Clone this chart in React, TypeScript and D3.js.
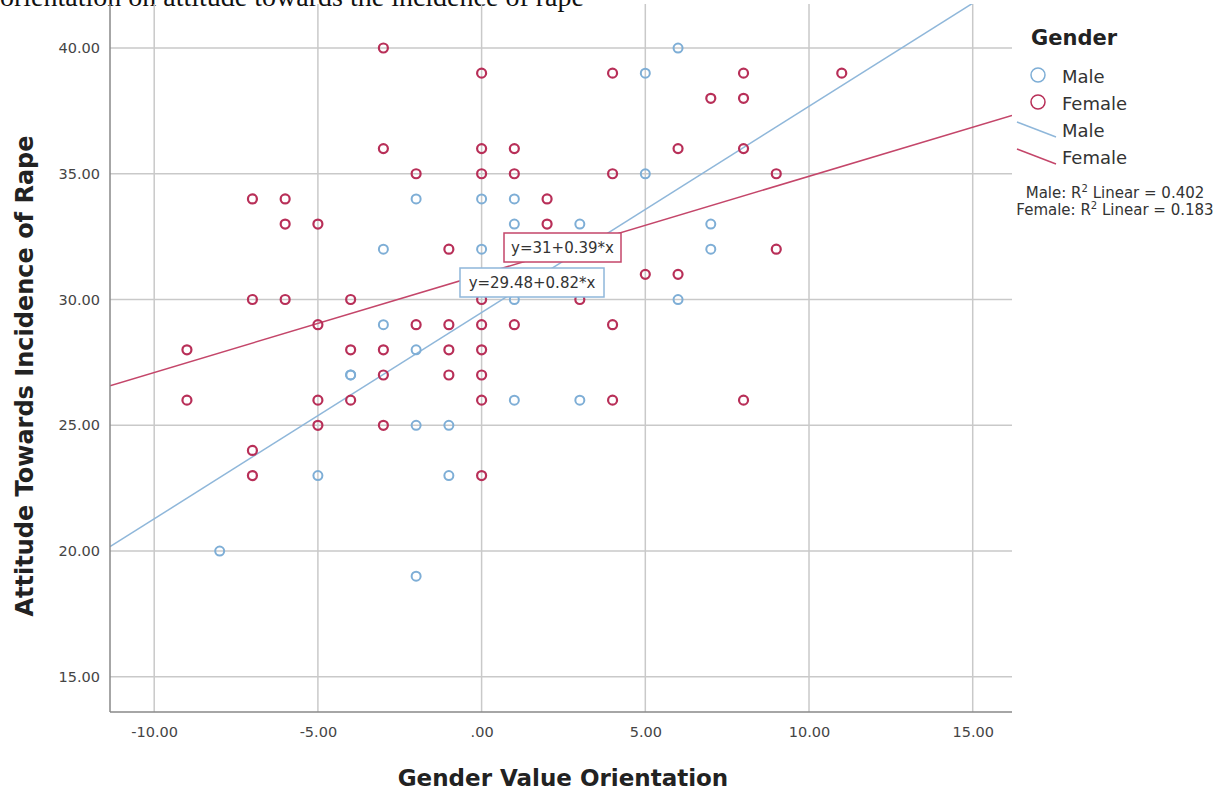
import * as d3 from 'd3'
import { useEffect, useRef } from 'react'

// Gender value orientation (x) vs attitude towards incidence of rape (y)
const maleX = [6, 5, 5, -2, 0, 1, 1, 3, 7, -3, 0, 7, 1, 6, -3, -2, -4, -4, -2, -1, -5, -1, 1, 3, -8, -2]
const maleY = [40, 39, 35, 34, 34, 34, 33, 33, 33, 32, 32, 32, 30, 30, 29, 28, 27, 27, 25, 25, 23, 23, 26, 26, 20, 19]

const femaleX = [
  -3, 0, 4, 8, 11, 7, 8, -3, 0, 1, 6, 8, -2, 0, 1, 4, 9, -7, -6, 2, -6, -5, 2, -1, 9, 5, 6,
  -7, -6, -4, 0, 3, -5, -2, -1, 0, 1, 4, -9, -4, -3, -1, 0, -3, -1, 0, -9, -5, -4, 0, 4, 8,
  -5, -3, -7, -7, 0,
]
const femaleY = [
  40, 39, 39, 39, 39, 38, 38, 36, 36, 36, 36, 36, 35, 35, 35, 35, 35, 34, 34, 34, 33, 33, 33, 32, 32, 31, 31,
  30, 30, 30, 30, 30, 29, 29, 29, 29, 29, 29, 28, 28, 28, 28, 28, 27, 27, 27, 26, 26, 26, 26, 26, 26,
  25, 25, 24, 23, 23,
]

const xTicks = [-10, -5, 0, 5, 10, 15]
const yTicks = [15, 20, 25, 30, 35, 40]

const fits = [
  { name: 'Male', a: 29.48, b: 0.82, label: 'y=29.48+0.82*x', r2: 'Male: R', r2v: ' Linear = 0.402' },
  { name: 'Female', a: 31, b: 0.39, label: 'y=31+0.39*x', r2: 'Female: R', r2v: ' Linear = 0.183' },
]

const MALE = '#7eaed6'
const FEMALE = '#b82f58'
const MALE_LINE = '#8fb7da'
const FEMALE_LINE = '#c4466a'
const FONT = '"DejaVu Sans", Arial, sans-serif'

const fmt = (d: number) => (d === 0 ? '.00' : d.toFixed(2))

const App = () => {
  const ref = useRef<HTMLDivElement>(null)

  useEffect(() => {
    if (!ref.current) return
    const W = 1219
    const H = 790
    d3.select(ref.current).select('svg').remove()

    const svg = d3
      .select(ref.current)
      .append('svg')
      .attr('width', W)
      .attr('height', H)
      .style('position', 'absolute')
      .style('left', '0px')
      .style('top', '0px')
      .style('font-family', FONT)

    svg.append('rect').attr('width', W).attr('height', H).attr('fill', '#fff')

    // cut-off caption line from the page above the figure
    svg
      .append('text')
      .attr('x', 0)
      .attr('y', 6)
      .style('font-family', '"Liberation Serif", "Times New Roman", serif')
      .style('font-size', '28px')
      .attr('fill', '#111')
      .text('orientation on attitude towards the incidence of rape')

    const left = 110
    const right = 1012
    const top = 4
    const bottom = 712

    const x = d3.scaleLinear().domain([-11.35, 16.2]).range([left, right])
    const y = d3.scaleLinear().domain([13.6, 41.75]).range([bottom, top])

    const plot = svg.append('g')

    // grid
    plot
      .selectAll('.vgrid')
      .data(xTicks)
      .enter()
      .append('line')
      .attr('x1', (d) => x(d))
      .attr('x2', (d) => x(d))
      .attr('y1', top)
      .attr('y2', bottom)
      .attr('stroke', '#c9c9c9')
      .attr('stroke-width', 1.5)
    plot
      .selectAll('.hgrid')
      .data(yTicks)
      .enter()
      .append('line')
      .attr('x1', left)
      .attr('x2', right)
      .attr('y1', (d) => y(d))
      .attr('y2', (d) => y(d))
      .attr('stroke', '#c9c9c9')
      .attr('stroke-width', 1.5)

    // axes
    const yAxis = svg
      .append('g')
      .attr('transform', `translate(${left},0)`)
      .call(d3.axisLeft(y).tickValues(yTicks).tickSize(0).tickPadding(10).tickFormat((d) => fmt(d as number)))
    yAxis.select('.domain').attr('stroke', '#888').attr('stroke-width', 1.5).attr('d', `M0,${top}V${bottom}`)
    yAxis.selectAll('text').style('font-size', '14.5px').attr('fill', '#444').style('font-family', FONT)

    const xAxis = svg
      .append('g')
      .attr('transform', `translate(0,${bottom})`)
      .call(d3.axisBottom(x).tickValues(xTicks).tickSize(0).tickPadding(15).tickFormat((d) => fmt(d as number)))
    xAxis.select('.domain').attr('stroke', '#888').attr('stroke-width', 1.5).attr('d', `M${left},0H${right}`)
    xAxis.selectAll('text').style('font-size', '14.5px').attr('fill', '#444').style('font-family', FONT)

    // axis titles
    svg
      .append('text')
      .attr('x', 563)
      .attr('y', 786)
      .attr('text-anchor', 'middle')
      .style('font-size', '23px')
      .style('font-weight', 'bold')
      .attr('fill', '#222')
      .text('Gender Value Orientation')
    svg
      .append('text')
      .attr('transform', `translate(33,376) rotate(-90)`)
      .attr('text-anchor', 'middle')
      .style('font-size', '24px')
      .style('font-weight', 'bold')
      .attr('fill', '#222')
      .text('Attitude Towards Incidence of Rape')

    // fit lines, clipped to plot
    svg
      .append('clipPath')
      .attr('id', 'plotclip')
      .append('rect')
      .attr('x', left)
      .attr('y', top)
      .attr('width', right - left)
      .attr('height', bottom - top)
    const [x0, x1] = x.domain()
    fits.forEach((f) => {
      const lineGen = d3
        .line<number>()
        .x((d) => x(d))
        .y((d) => y(f.a + f.b * d))
      plot
        .append('path')
        .datum([x0, x1])
        .attr('clip-path', 'url(#plotclip)')
        .attr('d', lineGen)
        .attr('fill', 'none')
        .attr('stroke', f.name === 'Male' ? MALE_LINE : FEMALE_LINE)
        .attr('stroke-width', 1.5)
    })

    // points
    const male = maleX.map((v, i) => [v, maleY[i]])
    const female = femaleX.map((v, i) => [v, femaleY[i]])
    plot
      .selectAll('.male')
      .data(male)
      .enter()
      .append('circle')
      .attr('cx', (d) => x(d[0]))
      .attr('cy', (d) => y(d[1]))
      .attr('r', 4.5)
      .attr('fill', 'none')
      .attr('stroke', MALE)
      .attr('stroke-width', 2)
    plot
      .selectAll('.female')
      .data(female)
      .enter()
      .append('circle')
      .attr('cx', (d) => x(d[0]))
      .attr('cy', (d) => y(d[1]))
      .attr('r', 4.5)
      .attr('fill', 'none')
      .attr('stroke', FEMALE)
      .attr('stroke-width', 2.2)

    // equation labels
    const labels = [
      { f: fits[1], x: 504, y: 233, w: 117, color: FEMALE_LINE },
      { f: fits[0], x: 460, y: 268, w: 144, color: MALE_LINE },
    ]
    labels.forEach((l) => {
      const g = svg.append('g').attr('transform', `translate(${l.x},${l.y})`)
      g.append('rect')
        .attr('width', l.w)
        .attr('height', 29)
        .attr('fill', '#fff')
        .attr('stroke', l.color)
        .attr('stroke-width', 1.5)
      g.append('text')
        .attr('x', l.w / 2)
        .attr('y', 20)
        .attr('text-anchor', 'middle')
        .style('font-size', '15px')
        .attr('fill', '#333')
        .text(l.f.label)
    })

    // legend
    const lg = svg.append('g')
    lg.append('text')
      .attr('x', 1031)
      .attr('y', 45)
      .style('font-size', '21px')
      .style('font-weight', 'bold')
      .attr('fill', '#222')
      .text('Gender')
    const items = [
      { kind: 'circle', color: MALE, label: 'Male' },
      { kind: 'circle', color: FEMALE, label: 'Female' },
      { kind: 'line', color: MALE_LINE, label: 'Male' },
      { kind: 'line', color: FEMALE_LINE, label: 'Female' },
    ]
    items.forEach((it, i) => {
      const yy = 76 + i * 27
      if (it.kind === 'circle') {
        lg.append('circle')
          .attr('cx', 1038)
          .attr('cy', yy - 1)
          .attr('r', 7)
          .attr('fill', 'none')
          .attr('stroke', it.color)
          .attr('stroke-width', 1.5)
      } else {
        lg.append('line')
          .attr('x1', 1017)
          .attr('y1', yy - 8)
          .attr('x2', 1056)
          .attr('y2', yy + 7)
          .attr('stroke', it.color)
          .attr('stroke-width', 1.5)
      }
      lg.append('text')
        .attr('x', 1062)
        .attr('y', yy + 7)
        .style('font-size', '18px')
        .attr('fill', '#333')
        .text(it.label)
    })
    fits.forEach((f, i) => {
      const t = svg
        .append('text')
        .attr('x', 1115)
        .attr('y', 198 + i * 17)
        .attr('text-anchor', 'middle')
        .style('font-size', '15px')
        .attr('fill', '#333')
      t.append('tspan').text(f.r2)
      t.append('tspan').attr('dy', -6).style('font-size', '10px').text('2')
      t.append('tspan').attr('dy', 6).text(f.r2v)
    })
  }, [])

  return <div ref={ref} />
}

export default App
